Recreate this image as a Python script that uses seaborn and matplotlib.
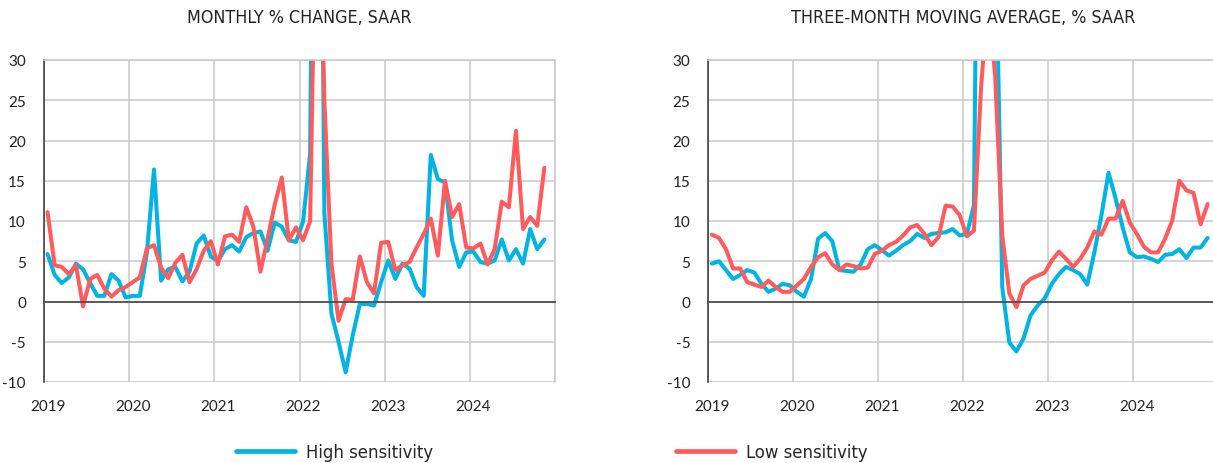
import numpy as np
import pandas as pd
import seaborn as sns
import matplotlib.pyplot as plt
import matplotlib.lines as mlines
from matplotlib.font_manager import FontProperties

# Monthly observations, Jan 2019 - Nov 2024
YEAR_LABELS = ["2019", "2020", "2021", "2022", "2023", "2024"]
SERIES = ["High sensitivity", "Low sensitivity"]
COLORS = {"High sensitivity": "#00B4E3", "Low sensitivity": "#FF5A5C"}

monthly_high = [
    5.9, 3.3, 2.3, 3.0, 4.7, 4.0, 2.3, 0.7, 0.7, 3.4, 2.6, 0.5,
    0.7, 0.7, 6.1, 16.4, 2.6, 4.0, 4.3, 2.5, 3.7, 7.2, 8.2, 5.6,
    5.0, 6.5, 7.0, 6.2, 8.0, 8.5, 8.7, 6.3, 9.8, 9.3, 7.6, 7.4,
    9.9, 18.4, 120.0, 11.0, -1.5, -5.0, -8.8, -4.2, -0.3, -0.3, -0.5, 2.4,
    5.1, 2.8, 4.7, 4.1, 1.8, 0.7, 18.2, 15.2, 14.8, 7.6, 4.3, 6.1,
    6.2, 4.9, 4.7, 5.1, 7.7, 5.1, 6.5, 4.7, 9.0, 6.5, 7.7,
]
monthly_low = [
    11.1, 4.5, 4.3, 3.4, 4.5, -0.6, 2.8, 3.3, 1.6, 0.6, 1.4, 1.8,
    2.4, 3.0, 6.6, 7.0, 4.2, 2.9, 4.8, 5.8, 2.4, 4.0, 6.3, 7.5,
    4.6, 8.1, 8.3, 7.4, 11.7, 9.3, 3.7, 7.8, 12.0, 15.4, 7.6, 9.2,
    7.6, 10.0, 62.0, 25.0, 4.7, -2.4, 0.3, 0.2, 5.6, 2.4, 1.0, 7.3,
    7.4, 3.9, 4.5, 4.9, 6.7, 8.4, 10.3, 5.7, 15.0, 10.5, 12.1, 6.7,
    6.6, 7.2, 4.6, 6.5, 12.4, 11.7, 21.2, 9.0, 10.5, 9.4, 16.6,
]
mma_high = [
    4.7, 5.0, 3.9, 2.8, 3.3, 3.9, 3.6, 2.2, 1.2, 1.6, 2.2, 2.0,
    1.2, 0.6, 2.8, 7.8, 8.5, 7.5, 3.9, 3.8, 3.7, 4.6, 6.5, 7.0,
    6.4, 5.7, 6.3, 7.0, 7.5, 8.4, 7.9, 8.4, 8.5, 8.6, 9.0, 8.2,
    8.4, 11.9, 100.0, 80.0, 50.0, 1.8, -5.1, -6.2, -4.6, -1.7, -0.5, 0.4,
    2.2, 3.4, 4.3, 3.9, 3.4, 2.1, 6.1, 10.7, 16.0, 12.8, 9.2, 6.1,
    5.5, 5.6, 5.3, 4.9, 5.8, 5.9, 6.5, 5.4, 6.7, 6.7, 7.9,
]
mma_low = [
    8.3, 7.9, 6.5, 4.1, 4.1, 2.4, 2.1, 1.8, 2.6, 1.8, 1.2, 1.2,
    2.0, 2.8, 4.3, 5.5, 6.0, 4.6, 3.9, 4.6, 4.4, 4.1, 4.2, 5.9,
    6.3, 7.0, 7.4, 8.2, 9.2, 9.5, 8.4, 7.0, 8.0, 11.9, 11.8, 10.7,
    8.1, 8.8, 26.5, 38.0, 28.0, 8.2, 1.0, -0.7, 2.0, 2.8, 3.2, 3.6,
    5.1, 6.2, 5.3, 4.3, 5.3, 6.7, 8.7, 8.3, 10.3, 10.3, 12.5, 9.8,
    8.4, 6.8, 6.1, 6.1, 7.8, 10.1, 15.0, 13.8, 13.5, 9.6, 12.1,
]

TITLES = ["MONTHLY % CHANGE, SAAR", "THREE-MONTH MOVING AVERAGE, % SAAR"]

TICKFONT = ["Lato", "DejaVu Sans"]
NARROW_TITLE = FontProperties(family="DejaVu Sans", stretch="condensed", size=12.8)
NARROW_LEGEND = FontProperties(family="DejaVu Sans", stretch="condensed", size=13.2)


def long_frame(high, low):
    n = len(high)
    month = np.arange(n) + 0.5  # each month sits in the middle of its slot
    return pd.DataFrame({
        "month": np.concatenate([month, month]),
        "value": np.concatenate([high, low]),
        "series": [SERIES[0]] * n + [SERIES[1]] * n,
    })


sns.set_theme(style="white")
plt.rcParams["font.family"] = TICKFONT

W, H = 1213, 464
fig = plt.figure(figsize=(W / 100, H / 100), dpi=100)
ax_left = fig.add_axes([44 / W, 81 / H, 511 / W, 322 / H])
ax_right = fig.add_axes([708.3 / W, 81 / H, 510 / W, 322 / H])

GRID = "#C9C9C9"
DARK = "#505050"

for ax, (high, low), title in zip(
    [ax_left, ax_right], [(monthly_high, monthly_low), (mma_high, mma_low)], TITLES
):
    df = long_frame(high, low)
    sns.lineplot(
        data=df, x="month", y="value", hue="series", hue_order=SERIES,
        palette=COLORS, linewidth=2.9, legend=False, ax=ax,
    )
    ax.set_xlim(0, 72)
    ax.set_ylim(-10, 30)
    ax.set_xlabel("")
    ax.set_ylabel("")

    # horizontal and vertical grid
    ax.set_yticks(np.arange(-10, 31, 5))
    ax.set_xticks(np.arange(0, 73, 12))
    ax.grid(True, color=GRID, linewidth=1.1)
    ax.set_axisbelow(True)

    for side in ["top", "right"]:
        ax.spines[side].set_visible(True)
        ax.spines[side].set_color(GRID)
        ax.spines[side].set_linewidth(1.1)
    ax.spines["left"].set_color("#333333")
    ax.spines["left"].set_linewidth(1.1)
    # zero line carries the year tick marks
    ax.spines["bottom"].set_position(("data", 0))
    ax.spines["bottom"].set_color(DARK)
    ax.spines["bottom"].set_linewidth(1.3)
    ax.tick_params(axis="x", which="major", direction="out", length=4,
                   width=1.1, color=DARK, labelbottom=False)
    ax.tick_params(axis="y", direction="out", length=4, width=1.1,
                   color="#333333", pad=9, labelsize=11, labelcolor="#222222")
    ax.set_yticklabels([str(v) for v in range(-10, 31, 5)])

    # year labels along the lower edge, centred on January
    sec = ax.secondary_xaxis("bottom")
    sec.set_xticks(np.arange(0, 72, 12) + 0.5)
    sec.set_xticklabels(YEAR_LABELS)
    sec.tick_params(length=0, pad=12, labelsize=11, labelcolor="#222222")
    sec.spines["bottom"].set_visible(False)

    ax.set_title(title, fontproperties=NARROW_TITLE, color="#222222", pad=27)

# two legend entries placed under the panels
legend_x = [236 / W, 676 / W]
for series, x0 in zip(SERIES, legend_x):
    handle = mlines.Line2D([], [], color=COLORS[series], linewidth=3.4,
                           solid_capstyle="round")
    fig.legend([handle], [series], loc="center left",
               bbox_to_anchor=(x0, 1 - 453 / H), frameon=False,
               borderpad=0, borderaxespad=0, handlelength=3.2,
               handletextpad=0.6, prop=NARROW_LEGEND)

fig.savefig("out.png", dpi=100, facecolor="white")
